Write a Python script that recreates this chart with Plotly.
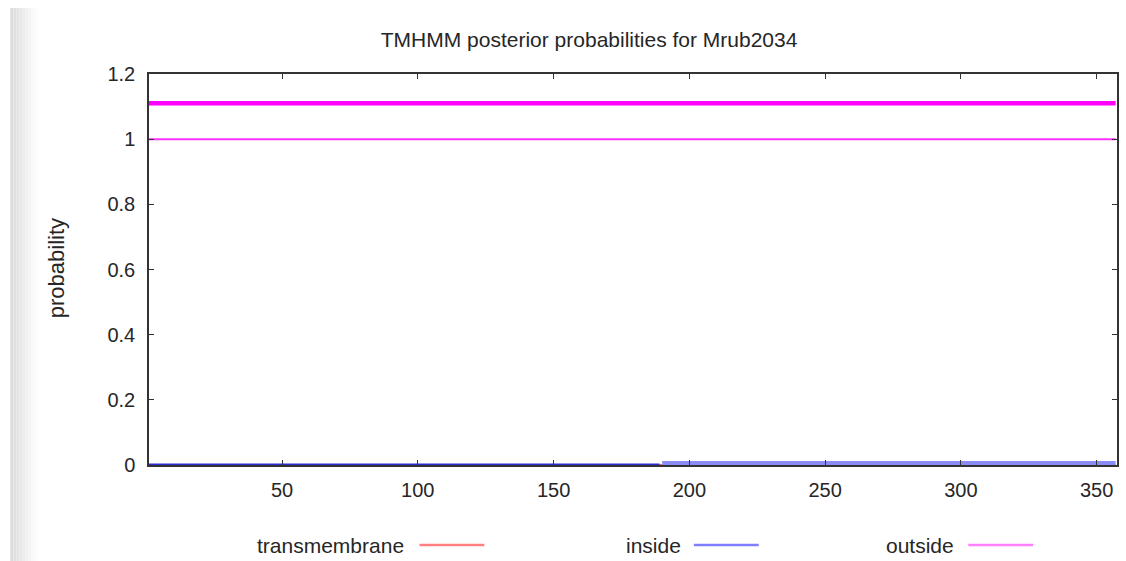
import plotly.graph_objects as go

# Sequence positions where the posterior probabilities change
positions = [1, 189, 190, 357]
transmembrane = [0.0, 0.0, 0.0, 0.0]
inside = [0.0, 0.0, 0.006, 0.006]
outside = [1.0, 1.0, 1.0, 1.0]

# Predicted topology bar drawn above the curves
topology_pos = [1, 357]
topology_level = [1.11, 1.11]

x_ticks = [50, 100, 150, 200, 250, 300, 350]
y_ticks = [0, 0.2, 0.4, 0.6, 0.8, 1, 1.2]
y_tick_text = ["0", "0.2", "0.4", "0.6", "0.8", "1", "1.2"]

W, H = 1126, 561
L, R, T, B = 149, 7, 74, 96
plot_w = W - L - R
plot_h = H - T - B

FONT = "Liberation Sans, Arial, sans-serif"
TXT = "#262626"

fig = go.Figure()
fig.add_trace(go.Scatter(x=topology_pos, y=topology_level, mode="lines",
                         line=dict(color="#ff00ff", width=4.5), hoverinfo="skip"))
fig.add_trace(go.Scatter(x=positions, y=outside, mode="lines",
                         line=dict(color="#ff33ff", width=2), name="outside"))
fig.add_trace(go.Scatter(x=positions, y=transmembrane, mode="lines",
                         line=dict(color="#ff6666", width=2), name="transmembrane"))
fig.add_trace(go.Scatter(x=positions[:2], y=inside[:2], mode="lines",
                         line=dict(color="#2a2ad8", width=3), name="inside"))
fig.add_trace(go.Scatter(x=positions[2:], y=inside[2:], mode="lines",
                         line=dict(color="#8c8cf5", width=4), name="inside", showlegend=False))


def px_to_paper_x(px):
    return (px - L) / plot_w


def px_to_paper_y(py):
    return (H - B - py) / plot_h


shapes = []
# soft grey strip along the left edge of the page
greys = [221, 224, 228, 232, 236, 240, 244, 248, 251, 254]
x0 = 10
for g in greys:
    shapes.append(dict(type="rect", xref="paper", yref="paper",
                       x0=px_to_paper_x(x0), x1=px_to_paper_x(x0 + 3),
                       y0=px_to_paper_y(H), y1=px_to_paper_y(8),
                       line=dict(width=0), fillcolor=f"rgb({g},{g},{g})", layer="below"))
    x0 += 3

# legend keys along the bottom
legend_items = [("transmembrane", 407, 420, 485, "#ff8080"),
                ("inside", 684, 695, 760, "#7f7fff"),
                ("outside", 958, 970, 1035, "#ff80ff")]
y_leg = px_to_paper_y(545)
annotations = []
for label, text_right, lx0, lx1, col in legend_items:
    shapes.append(dict(type="line", xref="paper", yref="paper",
                       x0=px_to_paper_x(lx0), x1=px_to_paper_x(lx1), y0=y_leg, y1=y_leg,
                       line=dict(color=col, width=2.5)))
    annotations.append(dict(text=label, xref="paper", yref="paper",
                            x=px_to_paper_x(text_right), y=y_leg, xanchor="right",
                            yanchor="middle", showarrow=False,
                            font=dict(family=FONT, size=21, color=TXT)))

# y-axis title placed by hand so its centre sits left of the tick labels
annotations.append(dict(text="probability", xref="paper", yref="paper",
                        x=px_to_paper_x(56), y=px_to_paper_y(268), textangle=-90,
                        xanchor="center", yanchor="middle", showarrow=False,
                        font=dict(family=FONT, size=22, color=TXT)))

fig.update_layout(
    width=W, height=H,
    margin=dict(l=L, r=R, t=T, b=B),
    paper_bgcolor="white", plot_bgcolor="white",
    showlegend=False,
    title=dict(text="TMHMM posterior probabilities for Mrub2034",
               x=px_to_paper_x(590), xref="paper", xanchor="center",
               y=1 - 40 / H, yanchor="middle",
               font=dict(family=FONT, size=21, color=TXT)),
    xaxis=dict(range=[1, 357.5], tickvals=x_ticks, ticks="inside", ticklen=5,
               tickcolor="#333", showline=True, linecolor="#333", linewidth=1.5,
               mirror="ticks", showgrid=False, zeroline=False,
               ticklabelstandoff=6,
               tickfont=dict(family=FONT, size=20, color=TXT)),
    yaxis=dict(range=[0, 1.2], tickvals=y_ticks, ticktext=y_tick_text,
               ticks="inside", ticklen=5, tickcolor="#333", showline=True,
               linecolor="#333", linewidth=1.5, mirror="ticks", showgrid=False,
               zeroline=False, ticklabelstandoff=8,
               tickfont=dict(family=FONT, size=20, color=TXT)),
    shapes=shapes,
    annotations=annotations,
)

fig.write_html("out.html")
